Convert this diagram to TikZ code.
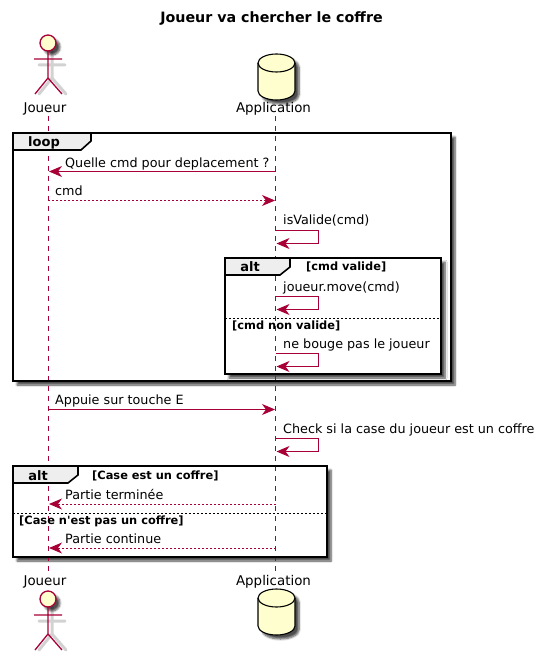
\documentclass[tikz,border=0pt]{standalone}
\usepackage{fontspec}
\setmainfont{DejaVu Sans}
\usepackage{tikz}
\usetikzlibrary{arrows.meta, shadows.blur}
\definecolor{umlred}{HTML}{A80036}
\definecolor{umlfill}{HTML}{FEFECE}
\definecolor{tabgray}{HTML}{EEEEEE}
\tikzset{
    msgtext/.style={anchor=base west, inner sep=0pt, font=\fontsize{12.75}{15}\selectfont},
    headtext/.style={anchor=base, inner sep=0pt, font=\fontsize{13.4}{16}\selectfont},
    tabtext/.style={anchor=base, inner sep=0pt, font=\fontsize{13}{15}\selectfont\bfseries},
    guardtext/.style={anchor=base west, inner sep=0pt, font=\fontsize{11.4}{13}\selectfont\bfseries},
    msg/.style={->, draw=umlred, line width=0.9pt},
    reply/.style={msg, dash pattern=on 2pt off 2pt},
    lifeline/.style={draw=umlred, line width=0.9pt, dash pattern=on 5pt off 5pt},
    softshadow/.style={blur shadow={shadow xshift=4pt, shadow yshift=-4pt, shadow blur radius=2pt, shadow blur steps=6, shadow opacity=70}},
    frame/.style={draw=black, line width=1.6pt, fill=white, softshadow},
    tabbox/.style={draw=black, line width=1.6pt, fill=tabgray},
    separator/.style={draw=black, line width=0.8pt, dash pattern=on 2pt off 2pt},
    actorfig/.pic={
        \draw[gray!35, line width=3pt, line cap=round] (4,-19) -- (4,8) (-9,-5) -- (17,-5) (4,8) -- (-9,24) (4,8) -- (18,24);
        \path[fill=umlfill, draw=umlred, line width=1.3pt, softshadow] (0,-27) circle (8);
        \draw[umlred, line width=1.3pt] (0,-19) -- (0,8) (-14,-11) -- (14,-11) (0,8) -- (-13,24) (0,8) -- (14,24);
    },
    dbfig/.pic={
        \path[draw=black, line width=1.1pt, fill=umlfill, softshadow] (-18.5,-9) -- (-18.5,19) arc[start angle=180, end angle=0, x radius=18.5, y radius=9] -- (18.5,-9) arc[start angle=0, end angle=-180, x radius=18.5, y radius=9] -- cycle;
        \draw[black, line width=1.1pt] (-18.5,-9) arc[start angle=180, end angle=0, x radius=18.5, y radius=9];
    },
}

\begin{document}
\begin{tikzpicture}[x=1pt, y=-1pt, >={Stealth[length=13pt, width=11pt, inset=4pt]}]
    \useasboundingbox (0,0) rectangle (544,660);

    % Title
    \node[headtext, font=\fontsize{14.25}{16}\selectfont\bfseries] (title) at (271.5,22.7) {Joueur va chercher le coffre};

    % Participants
    \pic at (48,70) {actorfig};
    \pic at (276.5,72) {dbfig};
    \pic at (48,626) {actorfig};
    \pic at (276.5,607) {dbfig};
    \node[headtext] (joueurtop) at (45,113) {Joueur};
    \node[headtext] (apptop) at (273.5,113) {Application};
    \node[headtext] (joueurbot) at (45,585.5) {Joueur};
    \node[headtext] (appbot) at (273.5,585.5) {Application};

    % Frames
    \path[frame] (13,133) rectangle (451,381);
    \path[frame] (225,258) rectangle (441,374);
    \path[frame] (13,466) rectangle (327,557);

    % Lifelines
    \coordinate (joueura) at (48,116);
    \coordinate (joueurb) at (48,572);
    \coordinate (appa) at (275.5,116);
    \coordinate (appb) at (275.5,572);
    \draw[lifeline] (joueura) -- (joueurb);
    \draw[lifeline] (appa) -- (appb);

    % Frame outlines and tabs
    \draw[draw=black, line width=1.6pt] (13,133) rectangle (451,381);
    \draw[draw=black, line width=1.6pt] (225,258) rectangle (441,374);
    \draw[draw=black, line width=1.6pt] (13,466) rectangle (327,557);
    \draw[tabbox] (13,133) -- (91,133) -- (91,141) -- (81,150) -- (13,150) -- cycle;
    \draw[tabbox] (225,258) -- (290,258) -- (290,267) -- (280,275) -- (225,275) -- cycle;
    \draw[tabbox] (13,466) -- (78,466) -- (78,475) -- (68,483) -- (13,483) -- cycle;
    \node[tabtext] (looptab) at (44,147) {loop};
    \node[tabtext] (alttaba) at (250,271) {alt};
    \node[tabtext] (alttabb) at (38,480) {alt};
    \node[guardtext] (guardvalid) at (306,270) {[cmd valide]};
    \node[guardtext] (guardcase) at (92,479) {[Case est un coffre]};

    % Separators
    \coordinate (sepaleft) at (225,318);
    \coordinate (separight) at (441,318);
    \coordinate (sepbleft) at (13,513);
    \coordinate (sepbright) at (327,513);
    \draw[separator] (sepaleft) -- (separight);
    \draw[separator] (sepbleft) -- (sepbright);
    \node[guardtext] (guardnot) at (232,329) {[cmd non valide]};
    \node[guardtext] (guardnocase) at (19,524) {[Case n\textquotesingle est pas un coffre]};

    % Message ends
    \coordinate (quellea) at (275.5,171.5);
    \coordinate (quelleb) at (49,171.5);
    \coordinate (cmda) at (48,200.5);
    \coordinate (cmdb) at (275,200.5);
    \coordinate (isvalida) at (275.5,230.5);
    \coordinate (isvalidb) at (276.5,243.5);
    \coordinate (movea) at (275.5,296.5);
    \coordinate (moveb) at (276.5,309.5);
    \coordinate (bougea) at (275.5,353.5);
    \coordinate (bougeb) at (276.5,366.5);
    \coordinate (appuiea) at (48,409.5);
    \coordinate (appuieb) at (275,409.5);
    \coordinate (checka) at (275.5,438.5);
    \coordinate (checkb) at (276.5,451.5);
    \coordinate (finia) at (275.5,504);
    \coordinate (finib) at (49,504);
    \coordinate (suitea) at (275.5,548);
    \coordinate (suiteb) at (49,548);

    % Directed edges
    \draw[msg] (quellea) -- (quelleb);
    \draw[reply] (cmda) -- (cmdb);
    \draw[msg] (isvalida) -- ++(43,0) -- ++(0,13) -- (isvalidb);
    \draw[msg] (movea) -- ++(43,0) -- ++(0,13) -- (moveb);
    \draw[msg] (bougea) -- ++(43,0) -- ++(0,13) -- (bougeb);
    \draw[msg] (appuiea) -- (appuieb);
    \draw[msg] (checka) -- ++(43,0) -- ++(0,13) -- (checkb);
    \draw[reply] (finia) -- (finib);
    \draw[reply] (suitea) -- (suiteb);

    % Labels
    \node[msgtext] (quelle) at (65,167.5) {Quelle cmd pour deplacement ?};
    \node[msgtext] (cmd) at (55,195.5) {cmd};
    \node[msgtext] (isvalid) at (283,224.5) {isValide(cmd)};
    \node[msgtext] (move) at (283,291.5) {joueur.move(cmd)};
    \node[msgtext] (bouge) at (283,348) {ne bouge pas le joueur};
    \node[msgtext] (appuie) at (55,404) {Appuie sur touche E};
    \node[msgtext] (check) at (283,433.5) {Check si la case du joueur est un coffre};
    \node[msgtext] (fini) at (65,499.5) {Partie terminée};
    \node[msgtext] (suite) at (65,543.5) {Partie continue};
\end{tikzpicture}
\end{document}
